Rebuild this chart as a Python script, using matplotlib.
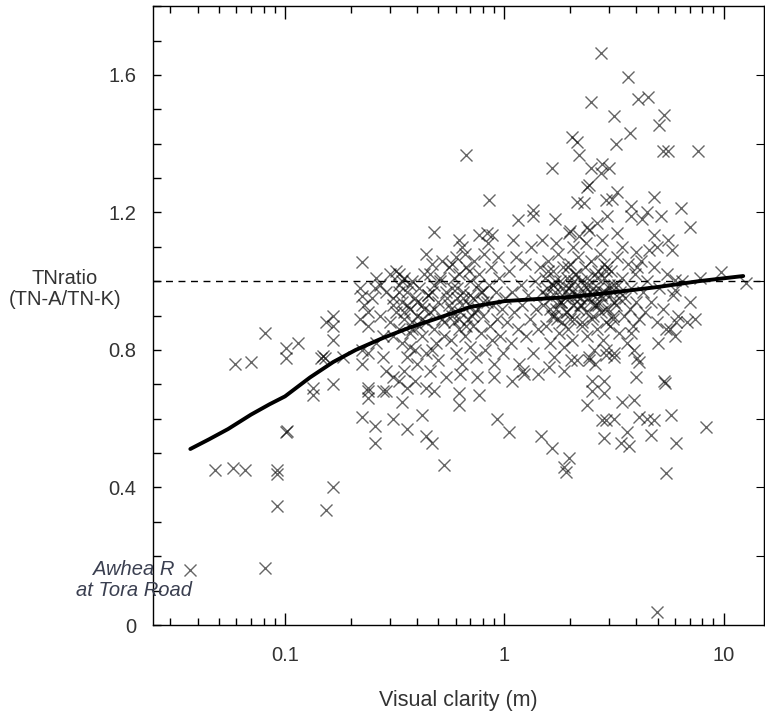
import matplotlib.pyplot as plt
from matplotlib.ticker import FixedLocator, NullFormatter, MultipleLocator

plt.rcParams['font.family'] = ['Liberation Sans', 'DejaVu Sans']

# sparse points (clarity in m, TN ratio)
left_x = [0.224, 0.224, 0.257, 0.166, 0.154, 0.166, 0.166, 0.219, 0.238, 0.081,
          0.115, 0.101, 0.101, 0.059, 0.070, 0.146, 0.152, 0.149, 0.184, 0.224,
          0.224, 0.166, 0.134, 0.134, 0.238, 0.238, 0.238, 0.280, 0.224, 0.257,
          0.257, 0.101, 0.102, 0.048, 0.058, 0.066, 0.092, 0.092, 0.166, 0.092,
          0.154, 0.081, 0.037]
left_y = [1.056, 0.957, 0.98, 0.90, 0.88, 0.87, 0.83, 0.89, 0.91, 0.85,
          0.82, 0.805, 0.777, 0.76, 0.765, 0.777, 0.777, 0.783, 0.78, 0.76,
          0.80, 0.70, 0.69, 0.67, 0.69, 0.66, 0.68, 0.68, 0.605, 0.58,
          0.53, 0.56, 0.565, 0.45, 0.457, 0.45, 0.45, 0.44, 0.40, 0.345,
          0.335, 0.166, 0.16]

mid_x = [0.855, 0.48, 1.16, 1.35, 1.35, 1.70, 1.49, 0.62, 0.77, 0.83,
         0.88, 0.31, 0.33, 0.29, 0.36, 0.34, 0.44, 0.48, 0.62, 0.62,
         0.77, 0.75, 0.90, 1.09, 1.23, 0.31, 0.42, 0.36, 0.44, 0.47,
         0.53, 0.93, 1.05, 1.47, 1.65, 1.87, 0.67, 1.65, 2.38, 2.31,
         1.97, 2.19, 2.38, 1.99]
mid_y = [1.236, 1.143, 1.178, 1.207, 1.19, 1.18, 1.12, 1.12, 1.135, 1.14,
         1.135, 0.72, 0.71, 0.68, 0.69, 0.65, 0.69, 0.68, 0.675, 0.64,
         0.67, 0.72, 0.72, 0.71, 0.73, 0.60, 0.61, 0.57, 0.55, 0.53,
         0.465, 0.60, 0.56, 0.55, 0.515, 0.46, 1.367, 1.33, 1.274, 1.228,
         1.14, 1.13, 1.158, 1.145]

right_x = [2.76, 3.66, 2.49, 4.06, 4.51, 3.16, 5.33, 5.06, 2.04, 2.15,
           3.23, 3.74, 5.28, 5.57, 7.62, 2.19, 2.49, 2.79, 3.0, 2.76,
           2.43, 3.26, 3.10, 2.91, 2.15, 4.8, 6.4, 7.0, 3.8, 4.47,
           5.2, 3.78, 4.24, 3.26, 2.94, 2.65, 2.43, 4.8, 5.6, 4.95,
           5.8, 3.98, 4.56, 4.02, 9.7, 6.0, 6.0, 12.6, 6.8, 6.05,
           3.78, 5.44, 2.01, 2.43, 2.91, 3.16, 4.02, 4.10, 2.51, 2.85,
           3.98, 5.33, 5.40, 2.51, 2.85, 3.43, 3.90, 2.38, 2.79, 2.91,
           3.16, 4.10, 4.47, 4.80, 5.74, 8.3, 2.85, 3.62, 3.40, 3.70,
           4.66, 6.05, 1.97, 1.91, 5.44, 4.95]
right_y = [1.664, 1.594, 1.52, 1.53, 1.536, 1.48, 1.484, 1.455, 1.42, 1.405,
           1.40, 1.43, 1.38, 1.38, 1.38, 1.367, 1.33, 1.34, 1.33, 1.315,
           1.28, 1.26, 1.24, 1.236, 1.23, 1.245, 1.213, 1.158, 1.22, 1.20,
           1.19, 1.19, 1.18, 1.14, 1.19, 1.17, 1.15, 1.135, 1.12, 1.10,
           1.09, 1.085, 1.09, 1.04, 1.027, 1.003, 0.975, 0.995, 0.88, 0.88,
           0.85, 0.86, 0.77, 0.77, 0.785, 0.79, 0.777, 0.765, 0.71, 0.71,
           0.72, 0.71, 0.705, 0.68, 0.675, 0.65, 0.655, 0.64, 0.596, 0.596,
           0.60, 0.605, 0.60, 0.596, 0.61, 0.576, 0.544, 0.56, 0.53, 0.52,
           0.553, 0.53, 0.486, 0.445, 0.442, 0.038]

# dense core, estimated column by column
core_x = [0.22, 0.23, 0.24, 0.25, 0.26, 0.27, 0.28, 0.29, 0.30, 0.30, 0.26, 0.28, 0.29, 0.24, 0.27,
          0.31, 0.32, 0.32, 0.33, 0.33, 0.34, 0.34, 0.35, 0.35, 0.36, 0.36, 0.37, 0.37, 0.38, 0.38,
          0.39, 0.39, 0.40, 0.40, 0.33, 0.31, 0.35, 0.37, 0.39,
          0.41, 0.42, 0.42, 0.43, 0.44, 0.44, 0.45, 0.46, 0.46, 0.47, 0.48, 0.48, 0.49, 0.50, 0.50,
          0.51, 0.52, 0.53, 0.54, 0.54, 0.44, 0.52, 0.47,
          0.56, 0.57, 0.57, 0.58, 0.59, 0.60, 0.60, 0.61, 0.62, 0.62, 0.63, 0.64, 0.64, 0.65, 0.66,
          0.67, 0.68, 0.69, 0.70, 0.70, 0.72, 0.72, 0.73, 0.74, 0.66, 0.58, 0.63,
          0.76, 0.77, 0.78, 0.79, 0.80, 0.81, 0.82, 0.83, 0.85, 0.86, 0.87, 0.88, 0.89, 0.90, 0.92,
          0.93, 0.95, 0.96, 0.98, 0.99, 0.84, 0.94,
          1.01, 1.03, 1.05, 1.07, 1.09, 1.11, 1.13, 1.15, 1.17, 1.19, 1.21, 1.24, 1.26, 1.28, 1.31,
          1.33, 1.35, 1.38, 1.40, 1.43, 1.45, 1.48, 1.22, 1.10, 1.42,
          1.51, 1.53, 1.55, 1.57, 1.59, 1.61, 1.63, 1.65, 1.67, 1.69, 1.71, 1.73, 1.75, 1.77, 1.79,
          1.81, 1.83, 1.85, 1.87, 1.89, 1.91, 1.93, 1.95, 1.97, 2.00, 2.02, 2.04, 2.06, 2.08, 2.10,
          2.12, 2.14, 2.16, 2.18, 1.60, 1.72, 1.88, 2.05, 1.66, 1.98,
          2.21, 2.24, 2.27, 2.30, 2.33, 2.36, 2.39, 2.42, 2.45, 2.48, 2.51, 2.54, 2.57, 2.60, 2.63,
          2.66, 2.69, 2.72, 2.75, 2.78, 2.81, 2.84, 2.87, 2.90, 2.93, 2.96, 2.99, 2.35, 2.58, 2.80,
          2.44, 2.68, 2.92,
          3.03, 3.08, 3.13, 3.18, 3.23, 3.28, 3.33, 3.38, 3.44, 3.50, 3.56, 3.62, 3.68, 3.74, 3.80,
          3.87, 3.94, 4.01, 4.10, 4.20, 4.30, 4.40, 4.50, 3.15, 3.45, 3.90,
          4.65, 4.80, 4.95, 5.10, 5.30, 5.50, 5.70, 5.90, 6.20, 6.50, 7.00, 7.40, 7.80, 5.00, 6.00]
core_y = [0.98, 0.93, 0.87, 0.95, 1.01, 0.90, 0.84, 0.97, 1.02, 0.88, 0.82, 0.78, 0.74, 0.79, 0.99,
          0.95, 1.03, 0.91, 0.86, 0.99, 0.94, 0.82, 0.89, 1.01, 0.97, 0.78, 0.92, 0.85, 1.00, 0.88,
          0.95, 0.80, 0.90, 0.76, 1.02, 0.84, 0.74, 0.81, 0.71,
          0.98, 0.93, 0.84, 1.02, 0.88, 0.79, 0.96, 0.91, 0.74, 1.05, 0.86, 0.99, 0.82, 0.94, 0.77,
          1.01, 0.89, 0.84, 0.97, 0.72, 1.08, 1.06, 0.80,
          1.04, 0.92, 0.83, 0.98, 0.88, 1.07, 0.79, 0.95, 1.02, 0.86, 0.91, 1.10, 0.76, 0.97, 0.84,
          1.04, 0.89, 0.93, 1.00, 0.81, 0.95, 0.87, 1.06, 0.78, 1.08, 1.05, 0.73,
          0.92, 1.02, 0.85, 0.97, 0.90, 1.08, 0.80, 0.94, 0.99, 0.87, 1.04, 0.83, 0.93, 0.76, 0.97,
          0.89, 1.01, 0.84, 0.92, 0.79, 1.11, 1.07,
          0.95, 0.88, 1.03, 0.82, 0.97, 0.91, 1.07, 0.86, 0.76, 0.99, 0.93, 1.05, 0.84, 0.96, 0.89,
          1.10, 0.79, 1.00, 0.92, 0.86, 1.04, 0.97, 0.74, 1.12, 0.73,
          0.93, 1.01, 0.87, 0.98, 1.06, 0.82, 0.95, 0.90, 1.03, 0.78, 0.97, 0.92, 1.08, 0.85, 1.00,
          0.94, 0.88, 1.04, 0.81, 0.97, 0.91, 1.01, 0.86, 0.95, 1.05, 0.99, 0.83, 0.93, 0.89, 1.02,
          0.96, 0.77, 0.92, 1.07, 0.75, 1.11, 0.74, 1.10, 0.99, 0.98,
          0.95, 1.00, 0.87, 0.97, 1.04, 0.91, 0.84, 0.99, 0.94, 1.06, 0.89, 0.96, 0.80, 1.02, 0.93,
          0.86, 0.98, 1.08, 0.91, 0.95, 0.83, 1.01, 0.97, 0.88, 1.04, 0.92, 0.99, 1.11, 0.76, 1.12,
          0.78, 1.03, 0.80,
          0.96, 1.03, 0.89, 0.99, 0.93, 1.07, 0.85, 0.97, 1.01, 0.90, 0.95, 0.82, 1.05, 0.92, 0.98,
          0.87, 1.02, 0.94, 0.89, 1.06, 0.97, 0.91, 1.00, 0.78, 1.10, 0.80,
          0.94, 1.04, 0.88, 0.98, 0.92, 1.02, 0.86, 0.96, 0.90, 1.00, 0.94, 0.89, 1.01, 0.82, 0.84]

# second pass over the darkest clusters
dense_x = [0.31, 0.33, 0.35, 0.37, 0.40, 0.42, 0.45, 0.48, 0.51, 0.55, 0.58, 0.61, 0.64, 0.67,
           0.70, 0.73, 0.76, 0.80, 0.34, 0.38, 0.43, 0.47, 0.53, 0.59, 0.65, 0.71, 0.78, 0.36,
           0.41, 0.46, 0.56, 0.62, 0.69,
           1.55, 1.62, 1.70, 1.78, 1.86, 1.94, 2.03, 2.12, 2.22, 2.32, 2.42, 2.53, 2.64, 2.76,
           2.88, 3.01, 3.15, 3.30, 1.58, 1.74, 1.90, 2.08, 2.26, 2.46, 2.67, 2.90, 3.12, 1.66,
           1.82, 2.00, 2.18, 2.38, 2.58, 2.82, 3.05, 3.35, 1.68, 1.95, 2.25, 2.55, 2.85]
dense_y = [0.93, 0.97, 0.91, 0.99, 0.94, 0.89, 0.96, 0.92, 1.00, 0.95, 0.90, 0.98, 0.93, 0.87,
           0.96, 0.91, 0.99, 0.94, 1.00, 0.86, 0.92, 0.97, 0.88, 1.01, 0.95, 0.90, 0.97, 0.93,
           0.87, 1.02, 0.93, 0.89, 1.03,
           0.96, 0.92, 1.00, 0.94, 0.98, 0.91, 0.97, 1.02, 0.93, 0.99, 0.95, 0.90, 1.01, 0.96,
           0.92, 0.98, 0.94, 0.99, 1.03, 0.89, 0.95, 1.00, 0.88, 0.97, 0.93, 1.03, 0.90, 0.99,
           0.94, 0.89, 0.96, 1.01, 0.93, 0.97, 0.87, 0.95, 0.90, 1.04, 0.93, 0.98, 1.05]

# smoothed trend line
trend_x = [0.037, 0.045, 0.055, 0.07, 0.085, 0.1, 0.13, 0.166, 0.21, 0.28, 0.37, 0.5,
           0.7, 1.0, 1.4, 2.0, 3.0, 5.0, 7.7, 12.3]
trend_y = [0.512, 0.54, 0.57, 0.612, 0.642, 0.665, 0.72, 0.765, 0.80, 0.835, 0.865, 0.893,
           0.925, 0.942, 0.948, 0.954, 0.966, 0.983, 1.0, 1.015]

fig = plt.figure(figsize=(7.65, 7.13), dpi=100)
ax = fig.add_axes([0.2, 0.1234, 0.7987, 0.868])

all_x = left_x + mid_x + right_x + core_x + dense_x
all_y = left_y + mid_y + right_y + core_y + dense_y
ax.plot(all_x, all_y, 'x', color='k', alpha=0.6, markersize=8.5, markeredgewidth=1.0)
ax.plot(trend_x, trend_y, '-', color='k', linewidth=2.8, solid_capstyle='round',
        solid_joinstyle='round')
ax.axhline(1.0, color='k', linestyle=(0, (5, 4)), linewidth=1.0)

ax.set_xscale('log')
ax.set_xlim(0.025, 15.3)
ax.set_ylim(0, 1.8)

ax.set_xticks([0.1, 1, 10])
ax.set_xticklabels(['0.1', '1', '10'])
ax.xaxis.set_minor_locator(FixedLocator([m * 10.0**e for e in (-2, -1, 0, 1) for m in range(2, 10)]))
ax.xaxis.set_minor_formatter(NullFormatter())
ax.set_yticks([0, 0.4, 0.8, 1.2, 1.6])
ax.set_yticklabels(['0', '0.4', '0.8', '1.2', '1.6'])
ax.yaxis.set_minor_locator(MultipleLocator(0.1))

ax.tick_params(which='both', direction='in', top=True, right=False, labelsize=14.5,
               labelcolor='#333333', width=1.0)
ax.tick_params(axis='x', which='major', length=9, pad=15)
ax.tick_params(axis='x', which='minor', length=5)
ax.tick_params(axis='y', which='major', length=6, pad=12)
ax.tick_params(axis='y', which='minor', length=6)

sec = ax.secondary_yaxis('right')
sec.set_yticks([0.2, 0.4, 0.6, 0.8, 1.0, 1.2, 1.4, 1.6])
sec.tick_params(direction='in', length=6, labelright=False)

for s in ax.spines.values():
    s.set_linewidth(1.0)

ax.set_xlabel('Visual clarity (m)', fontsize=15.5, color='#333333', labelpad=18)
ax.text(-0.144, 0.977, 'TNratio\n(TN-A/TN-K)', transform=ax.get_yaxis_transform(),
        ha='center', va='center', fontsize=14.5, color='#333333', linespacing=1.1)
ax.text(-0.031, 0.131, 'Awhea R\nat Tora Road', transform=ax.get_yaxis_transform(),
        ha='center', va='center', fontsize=14.5, style='italic', color='#3a3f50',
        linespacing=1.1)

fig.savefig('out.png', dpi=100)
